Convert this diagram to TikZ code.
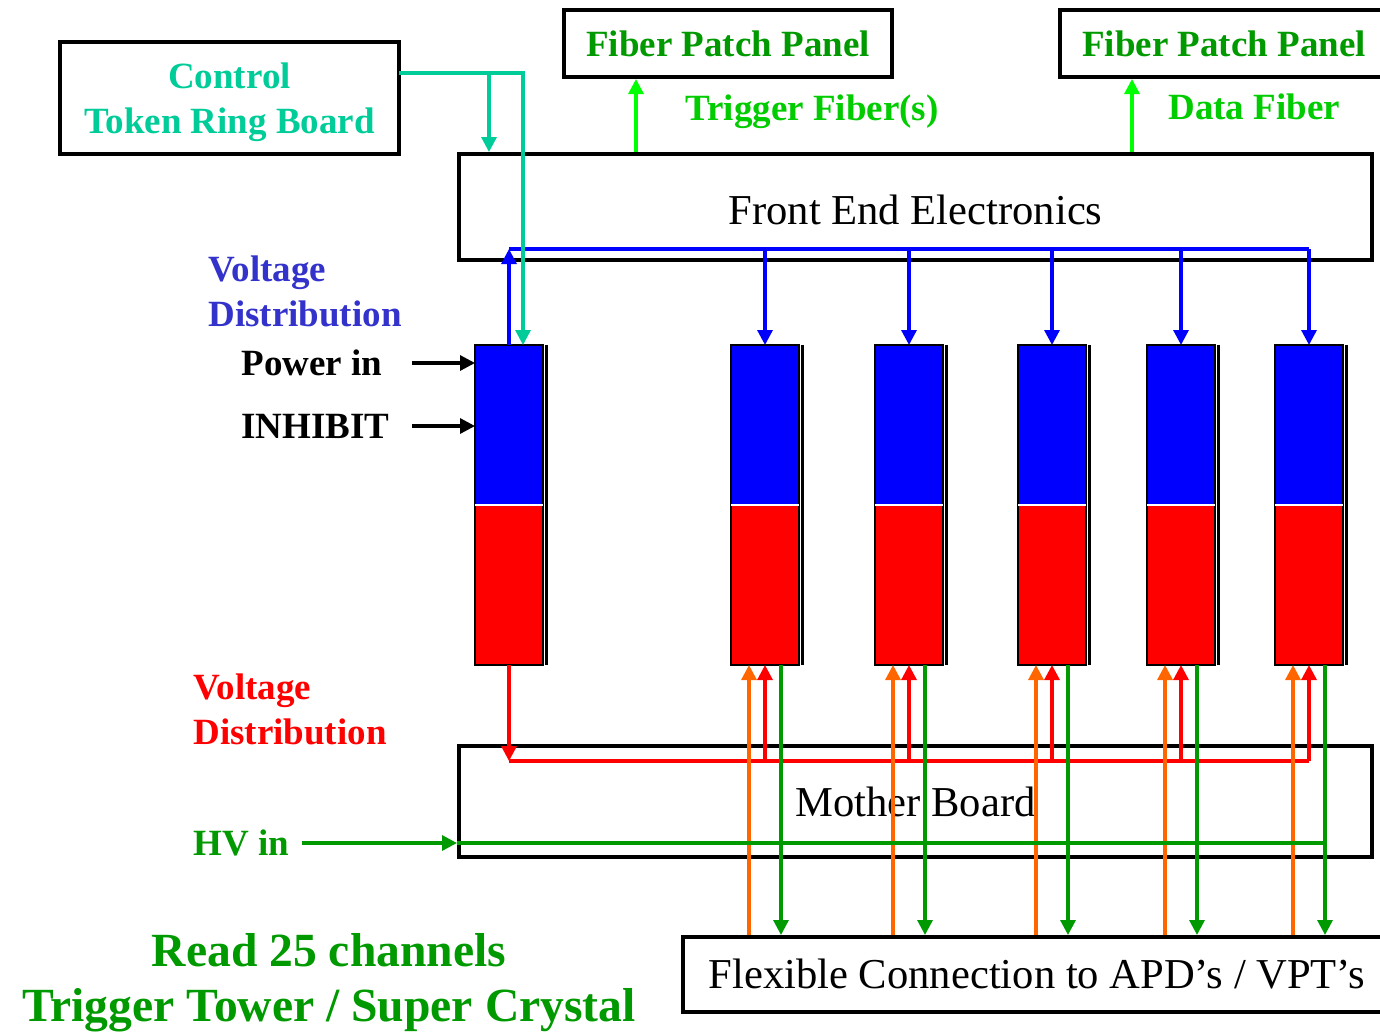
\documentclass[tikz,border=0pt]{standalone}
\usepackage{fontspec}
\setmainfont{Liberation Serif}
\usetikzlibrary{arrows.meta}
\definecolor{ctlteal}{HTML}{00CC99}
\definecolor{voltblue}{HTML}{3333CC}
\definecolor{hvgreen}{HTML}{009900}
\definecolor{fibgreen}{HTML}{00CC00}
\definecolor{fibline}{HTML}{00FF00}
\definecolor{apdorange}{HTML}{FF6600}

\tikzset{
  box/.style={draw=black, line width=2pt, inner sep=0pt},
  lbl/.style={font=\fontsize{18.5}{22.5}\selectfont\bfseries, inner sep=0pt},
  txt/.style={font=\fontsize{21.3}{25}\selectfont, inner sep=0pt},
  big/.style={font=\fontsize{23.8}{27.5}\selectfont\bfseries, inner sep=0pt},
  part/.style={minimum width=34pt, minimum height=80pt, inner sep=0pt, outer sep=0pt},
  wire/.style={line width=1.6pt},
  arr/.style={-{Triangle[length=7.5pt,width=7.5pt]}},
}

\begin{document}
\begin{tikzpicture}[x=0.5pt,y=-0.5pt]
  \useasboundingbox (0,0) rectangle (1380,1034);

  % boxes
  \node[box, lbl, text=ctlteal, align=center, minimum width=169.5pt, minimum height=56pt]
    (ctrl) at (229.5,98) {\rule{0pt}{17.5pt}Control\\Token Ring Board};
  \node[box, lbl, text=hvgreen, minimum width=164pt, minimum height=33.5pt]
    (fpp1) at (728,43.5) {Fiber Patch Panel};
  \node[box, lbl, text=hvgreen, minimum width=164pt, minimum height=33.5pt]
    (fpp2) at (1224,43.5) {Fiber Patch Panel};
  \node[box, txt, minimum width=456.5pt, minimum height=53pt]
    (fee) at (915.5,207) {\rule{0pt}{18pt}Front End Electronics};
  \node[box, txt, minimum width=456.5pt, minimum height=55.5pt]
    (mboard) at (915.5,801.5) {Mother Board};
  \node[box, txt, minimum width=354pt, minimum height=37.5pt]
    (flex) at (1037,974.5) {Flexible Connection to APD's / VPT's};

  % modules
  \foreach \i/\x in {1/509,2/765,3/909,4/1052,5/1181,6/1309} {
    \node[part, fill=blue] (up\i) at (\x,425) {};
    \node[part, fill=red] (lo\i) at (\x,585) {};
    \draw[line width=1pt] (up\i.north west) rectangle (lo\i.south east);
    \draw[line width=1.5pt] ([xshift=1.8pt]up\i.north east) -- ([xshift=1.8pt]lo\i.south east);
    \draw[white, line width=0.6pt] (up\i.south west) -- (up\i.south east);
  }

  % labels
  \node[lbl, text=voltblue, align=left, anchor=west] (vdup) at (208,291) {Voltage\\Distribution};
  \node[lbl, anchor=west] (pwr) at (241,363) {Power in};
  \node[lbl, anchor=west] (inh) at (241,426) {INHIBIT};
  \node[lbl, text=red, align=left, anchor=west] (vdlo) at (193,709) {Voltage\\Distribution};
  \node[lbl, text=hvgreen, anchor=west] (hvin) at (193,843) {HV in};
  \node[lbl, text=fibgreen, anchor=base west] (trgfib) at (685,120) {Trigger Fiber(s)};
  \node[lbl, text=fibgreen, anchor=base west] (datfib) at (1168,119) {Data Fiber};
  \node[big, text=hvgreen, align=center] (read) at (329,983)
    {Read 25 channels\\Trigger Tower / Super Crystal};

  % fibers
  \draw[wire, fibline, arr] ([xshift=-46pt]fpp1.south |- fee.north) -- ([xshift=-46pt]fpp1.south);
  \draw[wire, fibline, arr] ([xshift=-46pt]fpp2.south |- fee.north) -- ([xshift=-46pt]fpp2.south);

  % low voltage bus
  \coordinate (vbus) at (0,249);
  \draw[wire, blue, arr] (up1.north) -- (up1.north |- vbus);
  \draw[wire, blue] (up1.north |- vbus) -- (up6.north |- vbus);
  \foreach \i in {2,...,6}
    \draw[wire, blue, arr] (up\i.north |- vbus) -- (up\i.north);

  % control
  \coordinate (ctlout) at (399,73);
  \draw[wire, ctlteal, arr] (ctlout) -| ([xshift=7pt]up1.north);
  \draw[wire, ctlteal, arr] ([xshift=16pt]fee.north west |- ctlout) -- ([xshift=16pt]fee.north west);

  % power and inhibit
  \draw[wire, arr] ([xshift=-31.5pt]up1.west |- pwr.east) -- (up1.west |- pwr.east);
  \draw[wire, arr] ([xshift=-31.5pt]up1.west |- inh.east) -- (up1.west |- inh.east);

  % high voltage bus
  \coordinate (rbus) at (0,761);
  \draw[wire, red, arr] (lo1.south) -- (lo1.south |- rbus);
  \draw[wire, red] (lo1.south |- rbus) -- (lo6.south |- rbus);
  \foreach \i in {2,...,6}
    \draw[wire, red, arr] (lo\i.south |- rbus) -- (lo\i.south);

  % flex connections
  \foreach \i in {2,...,6} {
    \draw[wire, apdorange, arr] ([xshift=-8pt]lo\i.south |- flex.north) -- ([xshift=-8pt]lo\i.south);
    \draw[wire, hvgreen, arr] ([xshift=8pt]lo\i.south) -- ([xshift=8pt]lo\i.south |- flex.north);
  }

  % HV in
  \draw[wire, hvgreen, arr] ([xshift=6.5pt]hvin.east) -- (mboard.west |- hvin.east);
  \draw[wire, hvgreen] (mboard.west |- hvin.east) -- ([xshift=8pt]lo6.south |- hvin.east);
\end{tikzpicture}
\end{document}
